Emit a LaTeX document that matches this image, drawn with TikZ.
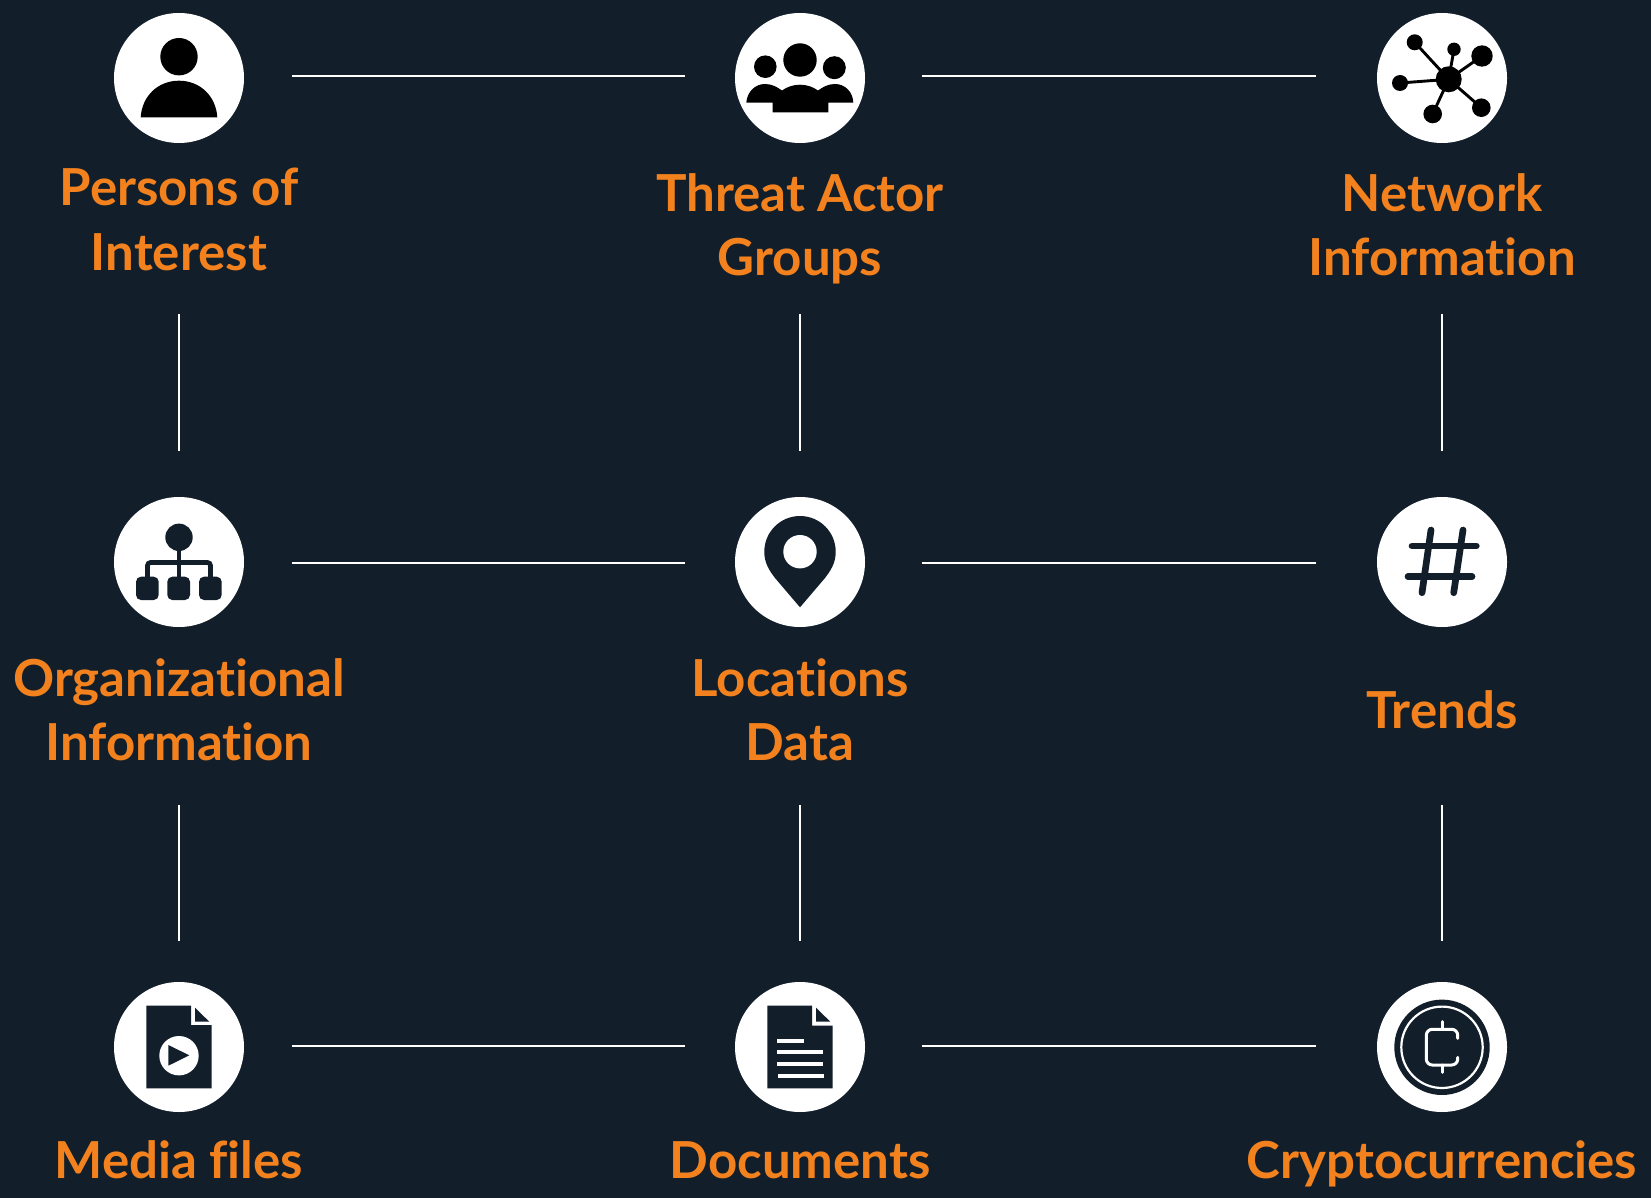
\documentclass[tikz,border=0pt]{standalone}
\usepackage{fontspec}
\setmainfont{Lato}[Ligatures=NoCommon]
\usetikzlibrary{calc}
\definecolor{bgc}{HTML}{121F2B}
\definecolor{org}{HTML}{F3821E}
\tikzset{
 x=1pt,y=-1pt,
 disc/.style={circle,fill=white,draw=none,minimum size=130pt,inner sep=0pt},
 lab/.style={text=org,font=\fontsize{51}{64}\selectfont\bfseries,align=center,inner sep=0pt,anchor=base},
 link/.style={draw=white,line width=2.8pt},
 hlinka/.style={link,shorten <=113pt,shorten >=115pt},
 hlinkb/.style={link,shorten <=122pt,shorten >=126pt},
 vlinka/.style={link,shorten <=236pt,shorten >=111pt},
 vlinkb/.style={link,shorten <=243pt,shorten >=106pt},
 ink/.style={fill=black,draw=none},
 dark/.style={fill=bgc,draw=none},
 wht/.style={fill=white,draw=none},
 spoke/.style={draw=black,line width=2.9pt},
 darkln/.style={draw=bgc,line width=4.7pt},
 hashln/.style={draw=bgc,line width=6.7pt,line cap=round},
 ringln/.style={draw=white,line width=2.2pt},
 whln/.style={draw=white,line width=3pt},
}
\begin{document}
\begin{tikzpicture}
\useasboundingbox (0,0) rectangle (1651,1198);
\fill[bgc] (0,0) rectangle (1651,1198);
% discs
\node[disc] (p) at (179,78) {};
\node[disc] (t) at (800,78) {};
\node[disc] (n) at (1442,78) {};
\node[disc] (o) at (179,562) {};
\node[disc] (l) at (800,562) {};
\node[disc] (h) at (1442,562) {};
\node[disc] (m) at (179,1047) {};
\node[disc] (d) at (800,1047) {};
\node[disc] (c) at (1442,1047) {};
% connectors
\draw[hlinka] ([yshift=2pt]p.center) -- ([yshift=2pt]t.center);
\draw[hlinkb] ([yshift=2pt]t.center) -- ([yshift=2pt]n.center);
\draw[hlinka] ([yshift=-1pt]o.center) -- ([yshift=-1pt]l.center);
\draw[hlinkb] ([yshift=-1pt]l.center) -- ([yshift=-1pt]h.center);
\draw[hlinka] ([yshift=1pt]m.center) -- ([yshift=1pt]d.center);
\draw[hlinkb] ([yshift=1pt]d.center) -- ([yshift=1pt]c.center);
\draw[vlinka] (p.center) -- (o.center);
\draw[vlinka] (t.center) -- (l.center);
\draw[vlinka] (n.center) -- (h.center);
\draw[vlinkb] (o.center) -- (m.center);
\draw[vlinkb] (l.center) -- (d.center);
\draw[vlinkb] (h.center) -- (c.center);
% labels (anchor: baseline of the last line)
\node[lab] (lp) at (179,270) {Persons of\\Interest};
\node[lab] (lt) at (800,275.5) {Threat Actor\\Groups};
\node[lab] (ln) at (1442,275.5) {Network\\Information};
\node[lab] (lo) at (179,760) {Organizational\\Information};
\node[lab] (ll) at (800,760) {Locations\\Data};
\node[lab] (lh) at (1442,728.3) {Trends};
\node[lab] (lm) at (179,1178.3) {Media files};
\node[lab] (ld) at (800,1178.3) {Documents};
\node[lab] (lc) at (1442,1178.3) {Cryptocurrencies};
% person
\fill[ink] (179,56.7) circle[radius=18.7];
\fill[ink] (140.7,117.3) .. controls (142,96) and (158,80.7) .. (179,80.7) .. controls (200,80.7) and (216,96) .. (217.3,117.3) -- cycle;
% group
\fill[ink] (800,60) circle[radius=16.7];
\fill[ink] (765.3,66.7) circle[radius=11.3];
\fill[ink] (834.3,67.7) circle[radius=11.5];
\fill[ink] (746.3,102.7) .. controls (747,92) and (755,84) .. (765,84) .. controls (772,84) and (777,87) .. (782,90.5) .. controls (787,87) and (793,84.7) .. (800,84.7) .. controls (807,84.7) and (813,87) .. (818,90.5) .. controls (823,87) and (828,84) .. (835,84) .. controls (845,84) and (853,92) .. (853.3,102.7) -- (828.3,102.7) -- (828.3,112.3) -- (772.7,112.3) -- (772.7,102.7) -- cycle;
% network
\draw[spoke] (1448.7,79.3) -- (1414.7,42.3);
\draw[spoke] (1448.7,79.3) -- (1454,49.3);
\draw[spoke] (1448.7,79.3) -- (1482,56);
\draw[spoke] (1448.7,79.3) -- (1400,83);
\draw[spoke] (1448.7,79.3) -- (1432.7,114);
\draw[spoke] (1448.7,79.3) -- (1481.3,107.7);
\fill[ink] (1448.7,79.3) circle[radius=13];
\fill[ink] (1414.7,42.3) circle[radius=8];
\fill[ink] (1454,49.3) circle[radius=6.7];
\fill[ink] (1482,56) circle[radius=10.7];
\fill[ink] (1400,83) circle[radius=8];
\fill[ink] (1432.7,114) circle[radius=9.3];
\fill[ink] (1481.3,107.7) circle[radius=9.3];
% org chart
\fill[dark] (179,537.3) circle[radius=13.7];
\draw[darkln] (179,540) -- (179,585);
\draw[darkln,rounded corners=3pt] (147.5,585) -- (147.5,562.5) -- (210.5,562.5) -- (210.5,585);
\fill[dark,rounded corners=5pt] (136,576.7) rectangle (158.7,600);
\fill[dark,rounded corners=5pt] (167.3,576.7) rectangle (190,600);
\fill[dark,rounded corners=5pt] (199,576.7) rectangle (221.7,600);
% pin
\fill[dark] (800,607.3) -- (775,578) .. controls (769,570) and (764.3,563) .. (764.3,551.7) arc[start angle=180,end angle=360,x radius=35.7,y radius=35.7] .. controls (835.7,563) and (831,570) .. (825,578) -- cycle;
\fill[wht] (800,551.7) circle[radius=16.7];
% hash
\draw[hashln] (1412,546) -- (1476.3,546);
\draw[hashln] (1408,576.7) -- (1472,576.7);
\draw[hashln] (1431,530) -- (1422,592.7);
\draw[hashln] (1463,530) -- (1453.7,592.7);
% media file
\fill[dark] (146.3,1005.7) -- (191,1005.7) -- (191,1025) -- (211.7,1025) -- (211.7,1088.3) -- (146.3,1088.3) -- cycle;
\fill[dark] (195,1007.7) -- (195,1021.7) -- (209.3,1021.7) -- cycle;
\fill[wht] (179,1055.7) circle[radius=19.7];
\fill[dark] (168.3,1045) -- (168.3,1065.7) -- (189.3,1055.3) -- cycle;
% document
\fill[dark] (767.3,1005.7) -- (812,1005.7) -- (812,1025.7) -- (832.7,1025.7) -- (832.7,1088.3) -- (767.3,1088.3) -- cycle;
\fill[dark] (816,1007.7) -- (816,1021.7) -- (830.3,1021.7) -- cycle;
\fill[wht] (777,1039.1) rectangle (804,1042.9);
\fill[wht] (777,1050.1) rectangle (823,1053.9);
\fill[wht] (777,1062.1) rectangle (823,1065.9);
\fill[wht] (778,1074.1) rectangle (824,1077.9);
% coin
\fill[dark] (1442,1047.3) circle[radius=47.7];
\draw[ringln] (1442,1047.3) circle[radius=40.7];
\draw[whln,line cap=round,rounded corners=6pt] (1457.7,1038.3) -- (1457.7,1029.3) -- (1426.3,1029.3) -- (1426.3,1065) -- (1457.7,1065) -- (1457.7,1057.3);
\draw[whln,line cap=round] (1442,1021.7) -- (1442,1029.3);
\draw[whln,line cap=round] (1442,1065) -- (1442,1072.3);
\end{tikzpicture}
\end{document}
